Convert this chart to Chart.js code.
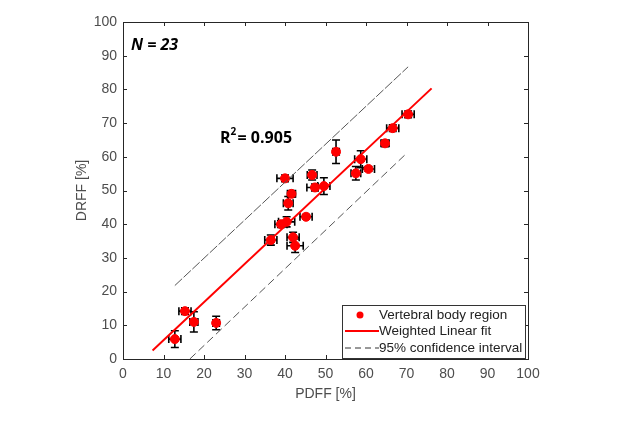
<!DOCTYPE html>
<html>
<head>
<meta charset="utf-8">
<script src="https://cdn.jsdelivr.net/npm/chart.js@4/dist/chart.umd.min.js"></script>
<style>
  html, body { margin: 0; padding: 0; background: #fff; }
  #wrap { width: 631px; height: 422px; }
</style>
</head>
<body>
<div id="wrap"><canvas id="myChart" width="631" height="422"></canvas></div>
<script>
// measured points (PDFF vs DRFF) with error bars
var pdff = [12.8, 15.3, 17.5, 23.0, 36.5, 39.0, 40.4, 40.0, 40.8, 41.6, 42.0, 42.5,
            45.2, 46.7, 47.4, 49.6, 52.6, 57.5, 58.7, 60.6, 64.7, 66.6, 70.4];
var drff = [5.9, 14.2, 11.0, 10.7, 35.3, 40.0, 40.7, 53.6, 46.2, 49.0, 36.1, 33.6,
            42.2, 54.6, 50.9, 51.3, 61.5, 55.1, 59.3, 56.4, 64.0, 68.5, 72.6];
var pdffErr = [1.5, 1.5, 1.0, 0.8, 1.5, 1.5, 2.0, 2.0, 1.2, 1.0, 1.5, 2.0,
               1.5, 1.2, 2.0, 1.5, 0.8, 1.2, 1.5, 1.5, 1.0, 1.5, 1.5];
var drffErr = [2.5, 1.0, 3.0, 2.0, 1.5, 1.0, 1.5, 1.0, 2.0, 1.0, 1.5, 2.0,
               0.7, 1.5, 1.0, 2.5, 3.5, 2.0, 2.5, 0.7, 1.0, 1.0, 1.0];

// fit line and confidence bounds (end points)
var fitX = [7.3, 76.2];
var fitY = [2.5, 80.3];
var upperX = [12.8, 70.4];
var upperY = [21.8, 86.7];
var lowerX = [16.5, 70.0];
var lowerY = [0.0, 61.0];

var tickVals = [0, 10, 20, 30, 40, 50, 60, 70, 80, 90, 100];
var legendLabels = ['Vertebral body region', 'Weighted Linear fit', '95% confidence interval'];

function toXY(xs, ys) {
    var out = [];
    for (let i = 0; i < xs.length; i++) out.push({ x: xs[i], y: ys[i] });
    return out;
}

const errorBars = {
    id: 'errorBars',
    beforeDatasetDraw(chart, args) {
        if (args.index !== 3) return;
        var ctx = chart.ctx;
        var xs = chart.scales.x, ys = chart.scales.y;
        ctx.save();
        ctx.strokeStyle = '#000';
        ctx.lineWidth = 1.6;
        for (let i = 0; i < pdff.length; i++) {
            var px = xs.getPixelForValue(pdff[i]);
            var py = ys.getPixelForValue(drff[i]);
            var x1 = xs.getPixelForValue(pdff[i] - pdffErr[i]);
            var x2 = xs.getPixelForValue(pdff[i] + pdffErr[i]);
            var y1 = ys.getPixelForValue(drff[i] - drffErr[i]);
            var y2 = ys.getPixelForValue(drff[i] + drffErr[i]);
            ctx.beginPath();
            ctx.moveTo(x1, py); ctx.lineTo(x2, py);
            ctx.moveTo(x1, py - 4); ctx.lineTo(x1, py + 4);
            ctx.moveTo(x2, py - 4); ctx.lineTo(x2, py + 4);
            ctx.moveTo(px, y1); ctx.lineTo(px, y2);
            ctx.moveTo(px - 4, y1); ctx.lineTo(px + 4, y1);
            ctx.moveTo(px - 4, y2); ctx.lineTo(px + 4, y2);
            ctx.stroke();
        }
        ctx.restore();
    }
};

const boxAndExtras = {
    id: 'boxAndExtras',
    afterDraw(chart) {
        var ctx = chart.ctx;
        var a = chart.chartArea;
        var xs = chart.scales.x, ys = chart.scales.y;
        ctx.save();
        // axes box
        ctx.strokeStyle = '#262626';
        ctx.lineWidth = 1;
        ctx.strokeRect(a.left + 0.5, a.top + 0.5, a.right - a.left, a.bottom - a.top);
        // inward ticks on all sides
        ctx.beginPath();
        tickVals.forEach(function (v) {
            var px = Math.round(xs.getPixelForValue(v)) + 0.5;
            ctx.moveTo(px, a.bottom); ctx.lineTo(px, a.bottom - 4);
            ctx.moveTo(px, a.top); ctx.lineTo(px, a.top + 4);
            var py = Math.round(ys.getPixelForValue(v)) + 0.5;
            ctx.moveTo(a.left, py); ctx.lineTo(a.left + 4, py);
            ctx.moveTo(a.right, py); ctx.lineTo(a.right - 4, py);
        });
        ctx.stroke();

        // annotations
        ctx.fillStyle = '#000';
        ctx.textBaseline = 'middle';
        ctx.textAlign = 'left';
        ctx.font = 'italic bold 16px "Open Sans", sans-serif';
        ctx.fillText('N = 23', 131, 45);
        ctx.font = 'bold 16px "Open Sans", sans-serif';
        ctx.fillText('R', 220, 138);
        var rw = ctx.measureText('R').width;
        ctx.font = 'bold 10px "Open Sans", sans-serif';
        ctx.fillText('2', 220 + rw, 132);
        ctx.font = 'bold 16px "Open Sans", sans-serif';
        ctx.fillText('= 0.905', 220 + rw + 7, 138);

        // legend
        var lx = 342, ly = 305, lw = 183, lh = 53;
        ctx.fillStyle = '#fff';
        ctx.fillRect(lx, ly, lw, lh);
        ctx.strokeStyle = '#333';
        ctx.lineWidth = 1;
        ctx.strokeRect(lx + 0.5, ly + 0.5, lw, lh);
        var rows = [315, 331, 348];
        ctx.fillStyle = 'red';
        ctx.beginPath();
        ctx.arc(360, rows[0], 3.5, 0, Math.PI * 2);
        ctx.fill();
        ctx.strokeStyle = 'red';
        ctx.lineWidth = 2;
        ctx.beginPath();
        ctx.moveTo(345, rows[1]); ctx.lineTo(379, rows[1]);
        ctx.stroke();
        ctx.strokeStyle = '#333';
        ctx.lineWidth = 1;
        ctx.setLineDash([6, 4]);
        ctx.beginPath();
        ctx.moveTo(345, rows[2]); ctx.lineTo(379, rows[2]);
        ctx.stroke();
        ctx.setLineDash([]);
        ctx.fillStyle = '#222';
        ctx.font = '13.5px "Liberation Sans", Arial, sans-serif';
        for (let i = 0; i < legendLabels.length; i++) {
            ctx.fillText(legendLabels[i], 379, rows[i]);
        }
        ctx.restore();
    }
};

const data = {
    datasets: [{
        label: 'fit',
        data: toXY(fitX, fitY),
        showLine: true,
        borderColor: 'rgb(255, 0, 0)',
        borderWidth: 2,
        pointRadius: 0
    }, {
        label: 'upper',
        data: toXY(upperX, upperY),
        showLine: true,
        borderColor: '#555',
        borderWidth: 1,
        borderDash: [10, 2],
        pointRadius: 0
    }, {
        label: 'lower',
        data: toXY(lowerX, lowerY),
        showLine: true,
        borderColor: '#555',
        borderWidth: 1,
        borderDash: [8, 4],
        pointRadius: 0
    }, {
        label: 'Vertebral body region',
        data: toXY(pdff, drff),
        backgroundColor: 'rgb(255, 0, 0)',
        borderColor: 'rgb(255, 0, 0)',
        pointRadius: 4.5,
        showLine: false
    }]
};

const config = {
    type: 'scatter',
    data: data,
    options: {
        responsive: false,
        animation: false,
        layout: { padding: { left: 74, top: 22, right: 103, bottom: 19 } },
        plugins: {
            legend: { display: false },
            tooltip: { enabled: false }
        },
        scales: {
            x: {
                min: 0, max: 100,
                afterFit: function (scale) { scale.height = 44; },
                afterBuildTicks: function (scale) { scale.ticks = tickVals.map(v => ({ value: v })); },
                grid: { display: false, drawTicks: false },
                border: { display: false },
                ticks: { color: '#4d4d4d', padding: 7, font: { size: 14, family: '"Liberation Sans", Arial, sans-serif' } },
                title: { display: true, text: 'PDFF [%]', color: '#4d4d4d', padding: 0, font: { size: 14, family: '"Liberation Sans", Arial, sans-serif' } }
            },
            y: {
                min: 0, max: 100,
                afterFit: function (scale) { scale.width = 49; },
                afterBuildTicks: function (scale) { scale.ticks = tickVals.map(v => ({ value: v })); },
                grid: { display: false, drawTicks: false },
                border: { display: false },
                ticks: { color: '#4d4d4d', padding: 6, font: { size: 14, family: '"Liberation Sans", Arial, sans-serif' } },
                title: { display: true, text: 'DRFF [%]', color: '#4d4d4d', padding: 0, font: { size: 14, family: '"Liberation Sans", Arial, sans-serif' } }
            }
        }
    },
    plugins: [errorBars, boxAndExtras]
};

const myChart = new Chart(document.getElementById('myChart'), config);
</script>
</body>
</html>
